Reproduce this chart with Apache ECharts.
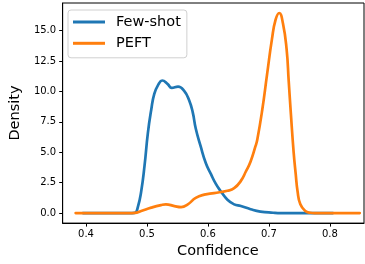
<!DOCTYPE html>
<html>
<head>
<meta charset="utf-8">
<script src="https://cdn.jsdelivr.net/npm/echarts@6.0.0/dist/echarts.min.js"></script>
<style>
  html, body { margin: 0; padding: 0; background: #fff; }
  #chart { width: 365px; height: 264px; }
</style>
</head>
<body>
<div id="chart"></div>
<script>
// density curves
const fewShotX = [0.395, 0.42, 0.45, 0.47, 0.48, 0.485, 0.4905, 0.496, 0.5015, 0.507, 0.512, 0.519, 0.525, 0.534, 0.5406, 0.551, 0.561, 0.569, 0.575, 0.58, 0.588, 0.5966, 0.605, 0.613, 0.621, 0.632, 0.643, 0.654, 0.67, 0.686, 0.707, 0.72, 0.76, 0.805]
const fewShotY = [0, 0, 0, 0, 0.02, 0.5, 1.78, 3.9, 6.6, 8.5, 9.8, 10.6, 10.9, 10.6, 10.3, 10.4, 10.05, 9.3, 8.3, 6.95, 5.5, 4.1, 3.2, 2.4, 1.8, 1.1, 0.72, 0.58, 0.32, 0.13, 0.03, 0, 0, 0]

const peftX = [0.383, 0.42, 0.45, 0.47, 0.48, 0.4905, 0.507, 0.523, 0.531, 0.545, 0.556, 0.567, 0.58, 0.594, 0.61, 0.632, 0.643, 0.654, 0.662, 0.67, 0.678, 0.681, 0.689, 0.697, 0.705, 0.711, 0.717, 0.723, 0.729, 0.7325, 0.736, 0.7406, 0.744, 0.747, 0.7516, 0.7597, 0.768, 0.775, 0.82, 0.849]
const peftY = [0, 0, 0, 0, 0.02, 0.18, 0.45, 0.66, 0.72, 0.58, 0.5, 0.72, 1.25, 1.52, 1.65, 1.84, 2.05, 2.65, 3.4, 4.25, 5.5, 6.05, 8.45, 11.4, 14.3, 15.9, 16.45, 15.6, 13.5, 10.85, 8.2, 5.0, 3.2, 1.8, 0.72, 0.18, 0.03, 0, 0, 0]

const xTicks = [0.4, 0.5, 0.6, 0.7, 0.8]
const yTicks = [0, 2.5, 5, 7.5, 10, 12.5, 15]

const font = 'DejaVu Sans'

function pairs(xs, ys) {
  return xs.map((x, i) => [x, ys[i]])
}

const chart = echarts.init(document.getElementById('chart'))

const option = {
  animation: false,
  backgroundColor: '#fff',
  grid: {
    left: 61,
    top: 3,
    width: 303,
    height: 226,
    show: true,
    borderColor: '#000',
    borderWidth: 1
  },
  legend: {
    orient: 'vertical',
    left: 68,
    top: 10,
    data: ['Few-shot', 'PEFT'],
    icon: 'rect',
    itemWidth: 32,
    itemHeight: 3,
    itemGap: 4.3,
    padding: [3.5, 6, 6, 5],
    borderColor: '#d0d0d0',
    borderWidth: 1,
    borderRadius: 3,
    backgroundColor: 'rgba(255,255,255,0.8)',
    textStyle: {
      fontFamily: font,
      fontSize: 14.5,
      lineHeight: 17,
      color: '#000',
      padding: [0, 0, 0, 6]
    }
  },
  xAxis: {
    type: 'value',
    min: 0.3617,
    max: 0.856,
    name: 'Confidence',
    nameLocation: 'middle',
    nameGap: 20,
    nameTextStyle: { fontFamily: font, fontSize: 14.5, color: '#000', padding: [0, 0, 0, 9] },
    axisLine: { show: true, onZero: false, lineStyle: { color: '#000', width: 1 } },
    axisTick: { show: true, length: 3.5, customValues: xTicks, lineStyle: { color: '#000' } },
    axisLabel: {
      customValues: xTicks,
      margin: 6,
      fontFamily: font,
      fontSize: 10,
      color: '#000',
      formatter: v => v.toFixed(1)
    },
    splitLine: { show: false }
  },
  yAxis: {
    type: 'value',
    min: -0.82,
    max: 17.27,
    name: 'Density',
    nameLocation: 'middle',
    nameGap: 26,
    nameRotate: 90,
    nameTextStyle: { fontFamily: font, fontSize: 14.5, color: '#000' },
    axisLine: { show: true, onZero: false, lineStyle: { color: '#000', width: 1 } },
    axisTick: { show: true, length: 3.5, customValues: yTicks, lineStyle: { color: '#000' } },
    axisLabel: {
      customValues: yTicks,
      margin: 6.5,
      fontFamily: font,
      fontSize: 10,
      color: '#000',
      formatter: v => v.toFixed(1)
    },
    splitLine: { show: false }
  },
  series: [
    {
      name: 'Few-shot',
      type: 'line',
      data: pairs(fewShotX, fewShotY),
      smooth: 0.5,
      showSymbol: false,
      lineStyle: { color: '#1f77b4', width: 2.7, join: 'round', cap: 'round' },
      itemStyle: { color: '#1f77b4' },
      z: 2
    },
    {
      name: 'PEFT',
      type: 'line',
      data: pairs(peftX, peftY),
      smooth: 0.5,
      showSymbol: false,
      lineStyle: { color: '#ff7f0e', width: 2.7, join: 'round', cap: 'round' },
      itemStyle: { color: '#ff7f0e' },
      z: 3
    }
  ]
}

chart.setOption(option)
</script>
</body>
</html>
